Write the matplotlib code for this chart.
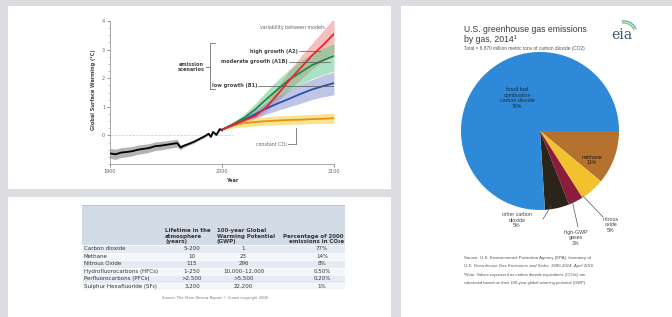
import matplotlib
matplotlib.use("Agg")
import matplotlib.pyplot as plt
from matplotlib.patches import Rectangle, Arc
import numpy as np

W, H = 672, 317

# ---------------- data ----------------
hist_years = [1900, 1905, 1910, 1915, 1920, 1925, 1930, 1935, 1940, 1945, 1950, 1955,
              1960, 1963, 1966, 1970, 1975, 1980, 1985, 1988, 1990, 1992, 1995, 1998, 2000]
hist_vals = [-0.63, -0.66, -0.60, -0.58, -0.55, -0.50, -0.47, -0.44, -0.38, -0.36, -0.33, -0.30,
             -0.27, -0.42, -0.36, -0.30, -0.22, -0.12, -0.02, 0.06, -0.05, 0.12, 0.02, 0.22, 0.18]
hist_spread = [0.17, 0.18, 0.17, 0.17, 0.16, 0.16, 0.16, 0.15, 0.15, 0.15, 0.14, 0.14,
               0.14, 0.08, 0.06, 0.05, 0.05, 0.04, 0.04, 0.04, 0.04, 0.04, 0.04, 0.04, 0.04]

scen_years = [2000, 2010, 2020, 2030, 2040, 2050, 2060, 2070, 2080, 2090, 2100]
a2 = [0.2, 0.38, 0.52, 0.68, 1.0, 1.45, 1.92, 2.35, 2.78, 3.15, 3.55]
a2_lo = [0.2, 0.33, 0.45, 0.58, 0.85, 1.2, 1.6, 1.95, 2.3, 2.6, 2.9]
a2_hi = [0.2, 0.45, 0.62, 0.82, 1.2, 1.72, 2.25, 2.75, 3.2, 3.65, 4.1]
a1b = [0.2, 0.4, 0.62, 0.92, 1.28, 1.62, 1.95, 2.2, 2.45, 2.62, 2.78]
a1b_lo = [0.2, 0.34, 0.5, 0.72, 1.0, 1.3, 1.55, 1.78, 1.98, 2.12, 2.25]
a1b_hi = [0.2, 0.47, 0.75, 1.12, 1.55, 1.95, 2.3, 2.6, 2.85, 3.05, 3.2]
b1 = [0.2, 0.36, 0.55, 0.75, 0.95, 1.12, 1.28, 1.45, 1.6, 1.72, 1.83]
b1_lo = [0.2, 0.3, 0.45, 0.6, 0.75, 0.88, 1.0, 1.12, 1.25, 1.35, 1.42]
b1_hi = [0.2, 0.42, 0.65, 0.9, 1.15, 1.38, 1.58, 1.78, 1.95, 2.1, 2.22]
const = [0.2, 0.36, 0.43, 0.47, 0.5, 0.52, 0.54, 0.55, 0.57, 0.58, 0.6]
const_lo = [0.2, 0.26, 0.3, 0.33, 0.35, 0.37, 0.39, 0.40, 0.41, 0.42, 0.42]
const_hi = [0.2, 0.46, 0.56, 0.61, 0.65, 0.68, 0.7, 0.72, 0.73, 0.75, 0.78]

table_header = ["", "Lifetime in the\natmosphere\n(years)",
                "100-year Global\nWarming Potential\n(GWP)",
                "Percentage of 2000\nemissions in CO\u2082e"]
table_gases = ["Carbon dioxide", "Methane", "Nitrous Oxide", "Hydrofluorocarbons (HFCs)",
               "Perfluorocarbons (PFCs)", "Sulphur Hexafluoride (SF\u2086)"]
table_lifetime = ["5\u2013200", "10", "115", "1\u2013250", ">2,500", "3,200"]
table_gwp = ["1", "23", "296", "10,000\u201312,000", ">5,500", "22,200"]
table_pct = ["77%", "14%", "8%", "0.50%", "0.20%", "1%"]

pie_labels = ["methane", "nitrous oxide", "high-GWP gases", "other carbon dioxide",
              "fossil fuel combustion carbon dioxide"]
pie_values = [11, 5, 3, 5, 76]
pie_colors = ["#b5722f", "#f2c12e", "#8c1c3c", "#2a2518", "#2e8ad8"]

# ---------------- figure ----------------
fig = plt.figure(figsize=(W / 100, H / 100), dpi=100)
fig.patch.set_facecolor("#dcdde0")


def px_axes(x0, y0, w, h):
    return fig.add_axes([x0 / W, 1 - (y0 + h) / H, w / W, h / H])


def panel(x0, y0, w, h):
    fig.add_artist(Rectangle((x0 / W, 1 - (y0 + h) / H), w / W, h / H,
                             transform=fig.transFigure, facecolor="white",
                             edgecolor="none", zorder=0))


def ftext(x, y, s, **kw):
    fig.text(x / W, 1 - y / H, s, **kw)


panel(8, 6, 383, 183)
panel(8, 197, 383, 120)
panel(401, 6, 271, 311)

# ---------------- climate chart ----------------
ax = px_axes(110, 21, 224, 143)
ax.set_xlim(1900, 2100)
ax.set_ylim(-1, 4)
ax.axhline(0, color="#c8c8c8", lw=0.5, ls="--", xmax=0.55, zorder=1)
hv = np.array(hist_vals)
hs = np.array(hist_spread)
ax.fill_between(hist_years, hv - hs, hv + hs, color="#9a9a9a", alpha=0.75, lw=0, zorder=2)
ax.plot(hist_years, hist_vals, color="black", lw=1.3, zorder=6)

ax.fill_between(scen_years, a2_lo, a2_hi, color="#f08a8a", alpha=0.55, lw=0, zorder=2)
ax.fill_between(scen_years, a1b_lo, a1b_hi, color="#5cc48a", alpha=0.5, lw=0, zorder=2)
ax.fill_between(scen_years, b1_lo, b1_hi, color="#8a96d0", alpha=0.55, lw=0, zorder=3)
ax.fill_between(scen_years, const_lo, const_hi, color="#f2dc5a", alpha=0.7, lw=0, zorder=3)
ax.plot(scen_years, const, color="#f08a1e", lw=1.3, zorder=5)
ax.plot(scen_years, b1, color="#2f4fb0", lw=1.3, zorder=5)
ax.plot(scen_years, a1b, color="#1f8a40", lw=1.3, zorder=5)
ax.plot(scen_years, a2, color="#e8262a", lw=1.3, zorder=6)

for sp in ["top", "right"]:
    ax.spines[sp].set_visible(False)
for sp in ["left", "bottom"]:
    ax.spines[sp].set_color("#9a9a9a")
    ax.spines[sp].set_linewidth(0.6)
ax.set_xticks([1900, 2000, 2100])
ax.set_xticklabels(["1900", "2000", "2100"])
ax.set_yticks([0, 1, 2, 3, 4])
ax.set_yticks(np.arange(-1, 4.01, 0.25), minor=True)
ax.tick_params(axis="both", which="major", labelsize=3.5, colors="#666666",
               length=2, width=0.5, pad=1.5)
ax.tick_params(axis="y", which="minor", length=1.2, width=0.4, colors="#999999")
ax.set_facecolor("none")

ftext(94, 90, "Global Surface Warming (\u00b0C)", rotation=90, fontsize=3.6,
      fontweight="bold", color="#444444", ha="center", va="center")
ftext(232, 180, "Year", fontsize=3.6, fontweight="bold", color="#444444",
      ha="center", va="center")

tc = "#444444"
ftext(325, 27, "variability between models", fontsize=3.4, color="#666666", ha="right", va="center")
ftext(298, 51, "high growth (A2)", fontsize=3.6, fontweight="bold", color=tc, ha="right", va="center")
ftext(288, 62, "moderate growth (A1B)", fontsize=3.6, fontweight="bold", color=tc, ha="right", va="center")
ftext(257, 86, "low growth (B1)", fontsize=3.6, fontweight="bold", color=tc, ha="right", va="center")
ftext(191, 67, "emission\nscenarios", fontsize=3.6, fontweight="bold", color=tc,
      ha="center", va="center", linespacing=1.0)
ftext(287, 144, "constant CO\u2082", fontsize=3.4, color="#666666", ha="right", va="center")

line_kw = dict(color="#555555", lw=0.5, transform=fig.transFigure)


def fline(xs, ys):
    fig.add_artist(plt.Line2D([x / W for x in xs], [1 - y / H for y in ys], **line_kw))


fline([299, 320], [51, 51])
fline([289, 330], [62, 62])
fline([258, 333], [86, 86])
fline([215, 210, 210, 215], [43, 43, 89, 89])
fline([206, 210], [67, 67])
fline([288, 296, 296], [144, 144, 128])

# ---------------- table ----------------
tb = px_axes(82, 205, 263, 85)
tb.set_xlim(0, 263)
tb.set_ylim(85, 0)
tb.axis("off")
col_x = [0, 81, 133, 190, 263]
hdr_h = 40
row_h = (85 - hdr_h) / len(table_gases)
tb.add_patch(Rectangle((0, 0), 263, hdr_h, facecolor="#d3dbe7", edgecolor="none"))
for i in range(len(table_gases)):
    y0 = hdr_h + i * row_h
    fc = "#e6ebf3" if i % 2 == 0 else "#f4f6fa"
    tb.add_patch(Rectangle((0, y0), 263, row_h, facecolor=fc, edgecolor="white", lw=0.4))
tb.plot([0, 263], [0, 0], color="#b8c0cc", lw=0.6)
tb.plot([0, 263], [85, 85], color="#b8c0cc", lw=0.6)
fs = 4.0
tb.text(col_x[1] + 2, hdr_h - 1, table_header[1], fontsize=fs, fontweight="bold",
        color="#333333", ha="left", va="bottom", linespacing=1.1)
tb.text(col_x[2] + 2, hdr_h - 1, table_header[2], fontsize=fs, fontweight="bold",
        color="#333333", ha="left", va="bottom", linespacing=1.1)
tb.text(262, hdr_h - 1, table_header[3], fontsize=fs, fontweight="bold",
        color="#333333", ha="right", va="bottom", linespacing=1.1)
for i, (g, lt, gw, pc) in enumerate(zip(table_gases, table_lifetime, table_gwp, table_pct)):
    yc = hdr_h + (i + 0.5) * row_h
    tb.text(2, yc, g, fontsize=fs, color="#333333", ha="left", va="center")
    tb.text((col_x[1] + col_x[2]) / 2 + 3, yc, lt, fontsize=fs, color="#333333", ha="center", va="center")
    tb.text((col_x[2] + col_x[3]) / 2, yc, gw, fontsize=fs, color="#333333", ha="center", va="center")
    tb.text(240, yc, pc, fontsize=fs, color="#333333", ha="center", va="center")
ftext(215, 298, "Source: The Stern Review Report \u00a9 Crown copyright 2006",
      fontsize=2.6, color="#777777", ha="center", va="center")

# ---------------- pie ----------------
r = 79
pa = px_axes(540 - r, 131 - r, 2 * r, 2 * r)
pa.pie(pie_values, colors=pie_colors, startangle=0, counterclock=False,
       wedgeprops=dict(linewidth=0))
pa.set_aspect("equal")
pa.set_xlim(-1, 1)
pa.set_ylim(-1, 1)
pa.axis("off")

sans = ["Liberation Sans", "DejaVu Sans"]
ftext(464, 30, "U.S. greenhouse gas emissions", fontsize=6.2, color="#3a3a3a",
      family=sans, ha="left", va="center")
ftext(464, 40, "by gas, 2014\u00b9", fontsize=6.2, color="#3a3a3a",
      family=sans, ha="left", va="center")
ftext(464, 48.5, "Total = 6,870 million metric tons of carbon dioxide (CO2)", fontsize=3.4,
      color="#555555", family=sans, ha="left", va="center")
ftext(622, 35, "eia", fontsize=10, color="#3d5570", family="DejaVu Serif",
      ha="center", va="center")
for col, rad in [("#5ab4d8", 13), ("#8cc84a", 11)]:
    fig.add_artist(Arc((624 / W, 1 - 34 / H), 2 * rad / W, 2 * rad / H, theta1=40, theta2=95,
                       transform=fig.transFigure, color=col, lw=1.0))

ftext(517, 98, "fossil fuel\ncombustion\ncarbon dioxide\n76%", fontsize=3.8, color="#1a2a3a",
      family=sans, ha="center", va="center", linespacing=1.15)
ftext(592, 160, "methane\n11%", fontsize=3.8, color="#2a1a0a", family=sans,
      ha="center", va="center", linespacing=1.15)
ftext(517, 220, "other carbon\ndioxide\n5%", fontsize=3.8, color="#444444", family=sans,
      ha="center", va="center", linespacing=1.15)
ftext(576, 238, "high-GWP\ngases\n3%", fontsize=3.8, color="#444444", family=sans,
      ha="center", va="center", linespacing=1.15)
ftext(611, 225, "nitrous\noxide\n5%", fontsize=3.8, color="#444444", family=sans,
      ha="center", va="center", linespacing=1.15)
fline([551, 543], [206, 219])
fline([572, 578], [200, 227])
fline([583, 603], [196, 217])

ftext(464, 258, "Source: U.S. Environmental Protection Agency (EPA), Inventory of",
      fontsize=3.2, color="#555555", family=sans, ha="left", va="center")
ftext(464, 266, "U.S. Greenhouse Gas Emissions and Sinks: 1990-2014, April 2016",
      fontsize=3.2, color="#555555", family=sans, ha="left", va="center", style="italic")
ftext(464, 275, "\u00b9Note: Values expressed as carbon dioxide equivalents (CO2e) are",
      fontsize=3.0, color="#555555", family=sans, ha="left", va="center")
ftext(464, 283, "calculated based on their 100-year global warming potential (GWP).",
      fontsize=3.0, color="#555555", family=sans, ha="left", va="center")

fig.savefig("out.png", dpi=100, facecolor=fig.get_facecolor())
